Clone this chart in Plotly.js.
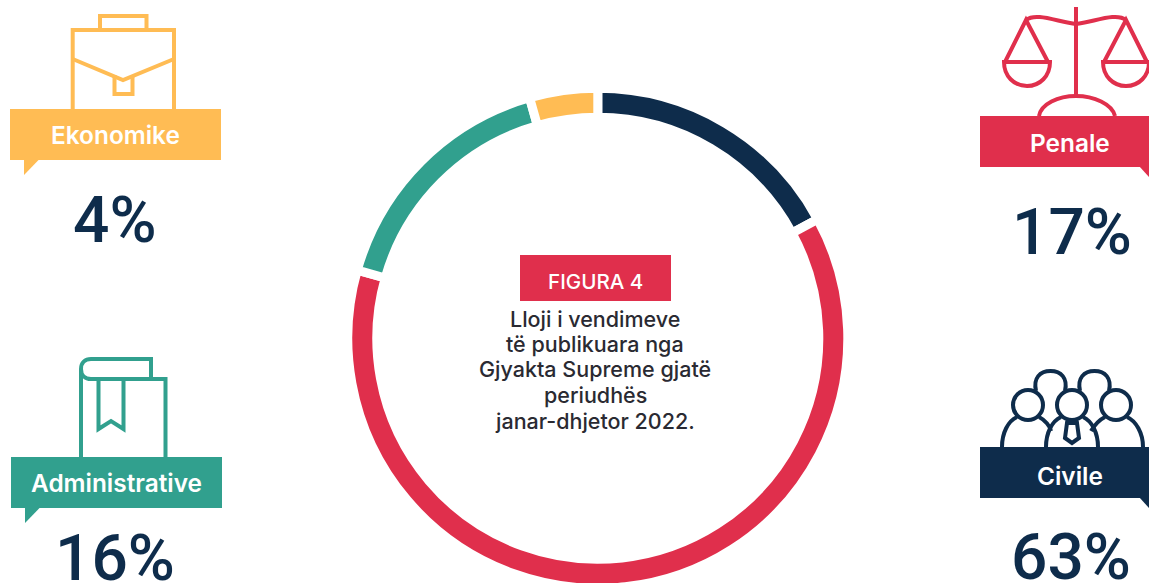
<!DOCTYPE html>
<html>
<head>
<meta charset="utf-8">
<script src="https://cdn.plot.ly/plotly-3.0.1.min.js"></script>
<style>html,body{margin:0;padding:0;background:#fff;overflow:hidden;height:583px}#wrap{width:1149px;height:583px;overflow:hidden}</style>
</head>
<body>
<div id="wrap"><div id="chart"></div></div>
<script>
// Data
var categories = ['Penale', 'Civile', 'Administrative', 'Ekonomike'];
var percentLabels = ['17%', '63%', '16%', '4%'];
// Shares read from the drawn arc lengths in the picture
var arcShares = [17.1, 62.3, 16.2, 4.4];
var sliceColors = ['#0E2C4B', '#E02F4C', '#31A08E', '#FFBC54'];
var captionLines = ['Lloji i vendimeve', 'të publikuara nga', 'Gjyakta Supreme gjatë', 'periudhës', 'janar-dhjetor 2022.'];
var figureLabel = 'FIGURA 4';

// Pixel layout: the ring runs off the bottom of the picture, so the plot is a little taller than the window
var W = 1149, H = 592;
var NAVY = '#0E2C4B', RED = '#E02F4C', GREEN = '#31A08E', YELLOW = '#FFBC54';
var cx = 597.8, cy = 338.3, R = 250;
var FONT = 'Inter, "Open Sans", sans-serif';
var NUMFONT = 'Roboto, Inter, sans-serif';

function circle(x, y, r) {
  var k = 0.5523 * r;
  return 'M' + (x - r) + ',' + y +
    ' C' + (x - r) + ',' + (y - k) + ' ' + (x - k) + ',' + (y - r) + ' ' + x + ',' + (y - r) +
    ' C' + (x + k) + ',' + (y - r) + ' ' + (x + r) + ',' + (y - k) + ' ' + (x + r) + ',' + y +
    ' C' + (x + r) + ',' + (y + k) + ' ' + (x + k) + ',' + (y + r) + ' ' + x + ',' + (y + r) +
    ' C' + (x - k) + ',' + (y + r) + ' ' + (x - r) + ',' + (y + k) + ' ' + (x - r) + ',' + y + ' Z';
}
function icon(path, color, w) {
  return {type: 'path', xref: 'x', yref: 'y', path: path, line: {color: color, width: w || 4}, fillcolor: 'rgba(0,0,0,0)', layer: 'above'};
}
function solid(path, color) {
  return {type: 'path', xref: 'x', yref: 'y', path: path, line: {width: 0}, fillcolor: color, layer: 'above'};
}
function box(x0, y0, x1, y1) { return 'M' + x0 + ',' + y0 + ' H' + x1 + ' V' + y1 + ' H' + x0 + ' Z'; }

var shapes = [
  // Ekonomike: briefcase
  icon('M72.7,109 V30 H174 V109', YELLOW),
  icon('M100,30 V16 H146.5 V30', YELLOW),
  icon('M72.7,59 L123,80 L174,59', YELLOW),
  icon('M114.5,75 V94 H132.5 V75', YELLOW),
  solid(box(10, 109, 221, 160), YELLOW),
  solid('M24,159 H39.5 L24,175 Z', YELLOW),

  // Administrative: book
  icon('M81,457 V369 C81,363 85,359 91,359 H151 V379', GREEN),
  icon('M81,369 C81,375 85,379 91,379 H165.5 V457', GREEN),
  icon('M98.5,379 V429 L111,421 L123.5,429 V379', GREEN),
  solid(box(11, 457, 222, 508), GREEN),
  solid('M25,507 H40.5 L25,523 Z', GREEN),

  // Penale: scales
  icon('M1076,7 V96', RED),
  icon('M1026,20 C1036,12 1058,22 1076,24 C1094,22 1116,12 1126,20', RED),
  icon('M1005,62 L1026,20 L1048,62', RED),
  icon('M1004,62 H1050 C1050,76 1040,86 1027,86 C1014,86 1004,76 1004,62 Z', RED),
  icon('M1104,62 L1126,20 L1147,62', RED),
  icon('M1103,62 H1149 C1149,76 1139,86 1126,86 C1113,86 1103,76 1103,62 Z', RED),
  icon('M1039,116 C1041,104 1058,96 1076,96 C1094,96 1112,104 1115,116', RED),
  solid(box(980, 116, 1149, 167), RED),
  solid('M1139,166 H1149 V177 Z', RED),

  // Civile: people
  icon(circle(1028, 405, 15), NAVY),
  icon(circle(1072, 405, 15), NAVY),
  icon(circle(1116, 405, 15), NAVY),
  icon('M1036,391 C1033,378 1040,371 1050.5,371 C1061,371 1068,378 1065,391', NAVY),
  icon('M1080,391 C1077,378 1084,371 1094.5,371 C1105,371 1112,378 1109,391', NAVY),
  icon('M1002,447 C1002,433 1008,421 1017,417', NAVY),
  icon('M1039,417 C1045,420 1050,426 1051,431', NAVY),
  icon('M1046,447 C1046,433 1052,421 1061,417', NAVY),
  icon('M1083,417 C1092,421 1098,433 1098,447', NAVY),
  icon('M1091,431 C1094,426 1099,420 1105,417', NAVY),
  icon('M1127,417 C1136,421 1143,433 1143,447', NAVY),
  icon('M1067,423 H1077 L1079,438 L1072,443 L1065,438 Z', NAVY),
  solid(box(980, 447, 1149, 498), NAVY),
  solid('M1139,497 H1149 V508 Z', NAVY),

  // Figure label
  solid(box(520, 255, 671, 301), RED)
];

function text(t, x, y, size, color, weight, family) {
  return {text: t, x: x, y: y, xref: 'x', yref: 'y', xanchor: 'center', yanchor: 'middle', showarrow: false,
          font: {family: family || FONT, size: size, color: color, weight: weight}};
}
var annotations = [
  text(categories[3], 115, 135, 24.4, '#FFFFFF', 600),
  text(categories[2], 116, 483, 24.4, '#FFFFFF', 600),
  text(categories[0], 1069.5, 143, 24.4, '#FFFFFF', 600),
  text(categories[1], 1069.5, 476, 24.4, '#FFFFFF', 600),
  text(percentLabels[3], 115, 220, 64, NAVY, 500, NUMFONT),
  text(percentLabels[2], 115, 558, 64, NAVY, 500, NUMFONT),
  text(percentLabels[0], 1072, 232, 64, NAVY, 500, NUMFONT),
  text(percentLabels[1], 1071, 557, 64, NAVY, 500, NUMFONT),
  text(figureLabel, 595, 281, 20.6, '#FFFFFF', 500)
];
var lineY = [319, 344, 369, 395, 421];
captionLines.forEach(function (l, i) { annotations.push(text(l, 595, lineY[i], 21.5, '#2A2A32', 500)); });

var traces = [
  {type: 'scatter', x: [], y: [], hoverinfo: 'skip', showlegend: false},
  {type: 'pie', labels: categories, values: arcShares, sort: false, direction: 'clockwise', rotation: 0, hole: 0.884,
   marker: {colors: sliceColors, line: {color: '#FFFFFF', width: 9}},
   textinfo: 'none', hoverinfo: 'label', showlegend: false,
   domain: {x: [(cx - R) / W, (cx + R) / W], y: [(H - cy - R) / H, (H - cy + R) / H]}}
];
var layout = {
  width: W, height: H, margin: {l: 0, r: 0, t: 0, b: 0}, paper_bgcolor: '#FFFFFF', plot_bgcolor: '#FFFFFF', showlegend: false,
  xaxis: {range: [0, W], visible: false, fixedrange: true, domain: [0, 1]},
  yaxis: {range: [H, 0], visible: false, fixedrange: true, domain: [0, 1]},
  shapes: shapes, annotations: annotations
};
Plotly.newPlot('chart', traces, layout, {displayModeBar: false, staticPlot: true});
</script>
</body>
</html>
